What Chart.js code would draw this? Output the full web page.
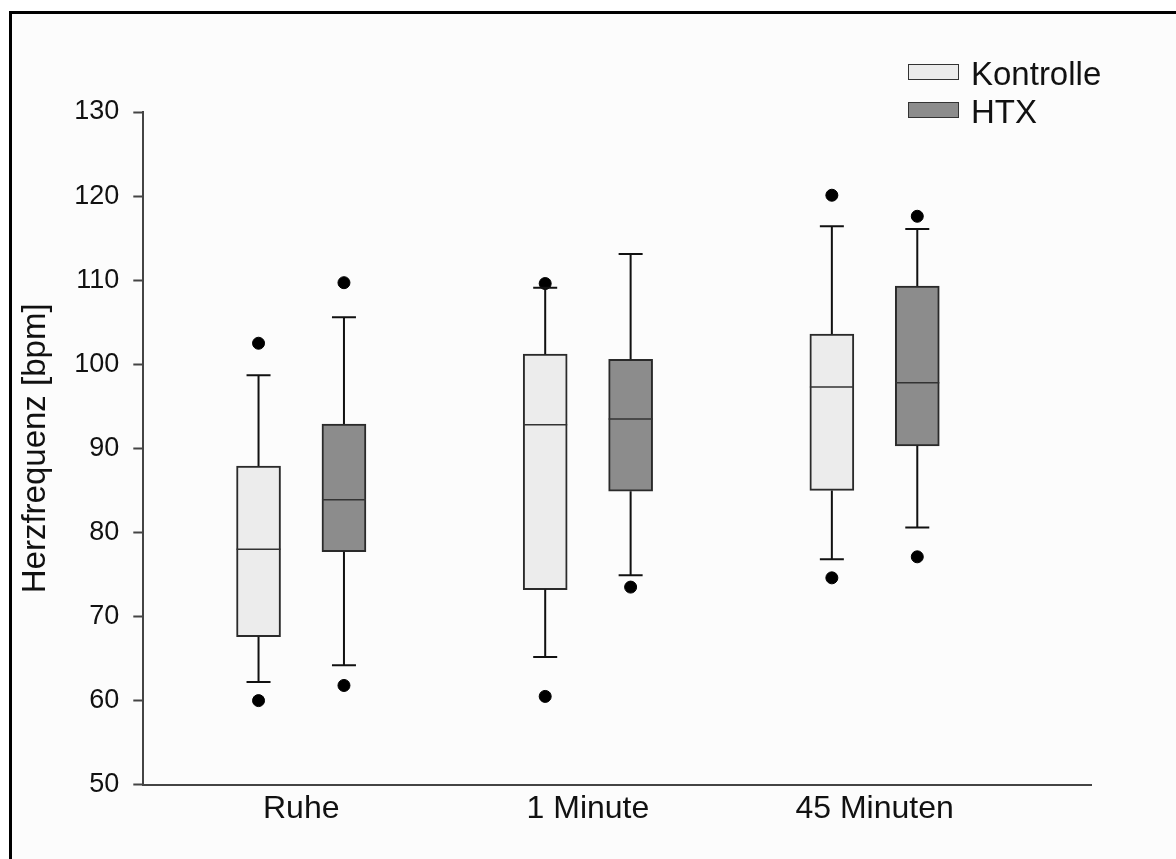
<!DOCTYPE html>
<html>
<head>
<meta charset="utf-8">
<title>Herzfrequenz</title>
<script src="https://cdn.jsdelivr.net/npm/chart.js@4.4.1/dist/chart.umd.min.js"></script>
<style>
  html, body { margin: 0; padding: 0; background: #fff; overflow: hidden; }
  #wrap { position: relative; width: 1176px; height: 859px; }
  #frame { position: absolute; left: 9px; top: 11px; width: 1200px; height: 900px;
           border-left: 3px solid #000; border-top: 3px solid #000; background: #fcfcfc; }
  #chart { position: absolute; left: 0; top: 0; }
  #legend { position: absolute; left: 908px; top: 55px; color: #111;
            font-family: 'Liberation Sans', Arial, sans-serif; font-size: 33px; }
  .item { display: flex; align-items: center; height: 38px; }
  .swatch { width: 49px; height: 14px; border: 1.5px solid #333; margin-right: 12px; position: relative; top: -2px; }
</style>
</head>
<body>
<div id="wrap">
  <div id="frame"></div>
  <canvas id="chart" width="1176" height="859"></canvas>
  <div id="legend"></div>
</div>
<script>
const categories = ["Ruhe", "1 Minute", "45 Minuten"];

// Kontrolle
const kontrolleMin = [62.2, 65.2, 76.8];
const kontrolleQ1 = [67.6, 73.2, 85.0];
const kontrolleMedian = [78.0, 92.8, 97.3];
const kontrolleQ3 = [87.9, 101.2, 103.6];
const kontrolleMax = [98.7, 109.1, 116.4];
const kontrolleOutliers = [[60.0, 102.5], [60.5, 109.6], [74.6, 120.1]];

// HTX
const htxMin = [64.2, 74.9, 80.6];
const htxQ1 = [77.7, 84.9, 90.3];
const htxMedian = [83.9, 93.5, 97.8];
const htxQ3 = [92.9, 100.6, 109.3];
const htxMax = [105.6, 113.1, 116.1];
const htxOutliers = [[61.8, 109.7], [73.5], [77.1, 117.6]];

const yTicks = [50, 60, 70, 80, 90, 100, 110, 120, 130];

const FONT = "'Liberation Sans', Arial, sans-serif";
const SHIFT = 0.149;

const groups = [
    { label: "Kontrolle", color: "#ececec", shift: -SHIFT,
      min: kontrolleMin, q1: kontrolleQ1, med: kontrolleMedian, q3: kontrolleQ3, max: kontrolleMax, out: kontrolleOutliers },
    { label: "HTX", color: "#8c8c8c", shift: SHIFT,
      min: htxMin, q1: htxQ1, med: htxMedian, q3: htxQ3, max: htxMax, out: htxOutliers }
];

const datasets = [];
groups.forEach(g => {
    datasets.push({
        type: "bar",
        label: g.label,
        data: categories.map((c, i) => ({ x: i + 1 + g.shift, y: [g.q1[i], g.q3[i]] })),
        backgroundColor: g.color,
        borderColor: "#2a2a2a",
        borderWidth: 2,
        borderSkipped: false,
        barThickness: 44,
        grouped: false,
        order: 2
    });
});
groups.forEach(g => {
    const pts = [];
    g.out.forEach((vals, i) => vals.forEach(v => pts.push({ x: i + 1 + g.shift, y: v })));
    datasets.push({
        type: "scatter",
        label: g.label + " Ausreißer",
        data: pts,
        pointRadius: 6,
        pointHoverRadius: 6,
        backgroundColor: "#000",
        borderColor: "#000",
        order: 1
    });
});

// whiskers, caps and medians, placed with the chart's scales
const boxLines = {
    id: "boxLines",
    afterDatasetsDraw(chart) {
        const { ctx, scales: { x, y } } = chart;
        ctx.save();
        groups.forEach((g, gi) => {
            const meta = chart.getDatasetMeta(gi);
            categories.forEach((c, i) => {
                const px = x.getPixelForValue(i + 1 + g.shift);
                const half = meta.data[i].width / 2;
                const cap = 12;
                ctx.strokeStyle = "#111";
                ctx.lineWidth = 2;
                ctx.beginPath();
                ctx.moveTo(px, y.getPixelForValue(g.q3[i]));
                ctx.lineTo(px, y.getPixelForValue(g.max[i]));
                ctx.moveTo(px - cap, y.getPixelForValue(g.max[i]));
                ctx.lineTo(px + cap, y.getPixelForValue(g.max[i]));
                ctx.moveTo(px, y.getPixelForValue(g.q1[i]));
                ctx.lineTo(px, y.getPixelForValue(g.min[i]));
                ctx.moveTo(px - cap, y.getPixelForValue(g.min[i]));
                ctx.lineTo(px + cap, y.getPixelForValue(g.min[i]));
                ctx.stroke();
                ctx.strokeStyle = "#333";
                ctx.lineWidth = 1.5;
                ctx.beginPath();
                ctx.moveTo(px - half, y.getPixelForValue(g.med[i]));
                ctx.lineTo(px + half, y.getPixelForValue(g.med[i]));
                ctx.stroke();
            });
        });
        ctx.restore();
    }
};

Chart.defaults.font.family = FONT;
Chart.defaults.color = "#111";

new Chart(document.getElementById("chart"), {
    data: { datasets },
    options: {
        responsive: false,
        animation: false,
        layout: { padding: { left: 10, top: 112, right: 85, bottom: 0 } },
        plugins: { legend: { display: false }, tooltip: { enabled: false } },
        scales: {
            x: {
                type: "linear",
                min: 0.449,
                max: 3.755,
                offset: false,
                grid: { display: false, drawTicks: false },
                border: { display: true, color: "#444", width: 2 },
                afterBuildTicks: scale => { scale.ticks = categories.map((c, i) => ({ value: i + 1 })); },
                afterFit: scale => { scale.height = 74.3; },
                ticks: {
                    font: { size: 32 },
                    padding: 5,
                    callback: v => categories[v - 1]
                }
            },
            y: {
                min: 50,
                max: 130,
                grid: { display: true, drawOnChartArea: false, drawTicks: true, tickLength: 10, tickColor: "#444", tickWidth: 2 },
                border: { display: true, color: "#444", width: 2 },
                afterBuildTicks: scale => { scale.ticks = yTicks.map(v => ({ value: v })); },
                afterFit: scale => { scale.width = 133.3; },
                ticks: { font: { size: 27 }, padding: 14 },
                title: {
                    display: true,
                    text: "Herzfrequenz [bpm]",
                    font: { size: 33 },
                    padding: { top: 6, bottom: 0 }
                }
            }
        }
    },
    plugins: [boxLines]
});

// legend
const legend = document.getElementById("legend");
groups.forEach(g => {
    const item = document.createElement("div");
    item.className = "item";
    item.innerHTML = `<span class="swatch" style="background:${g.color}"></span><span>${g.label}</span>`;
    legend.appendChild(item);
});
</script>
</body>
</html>
